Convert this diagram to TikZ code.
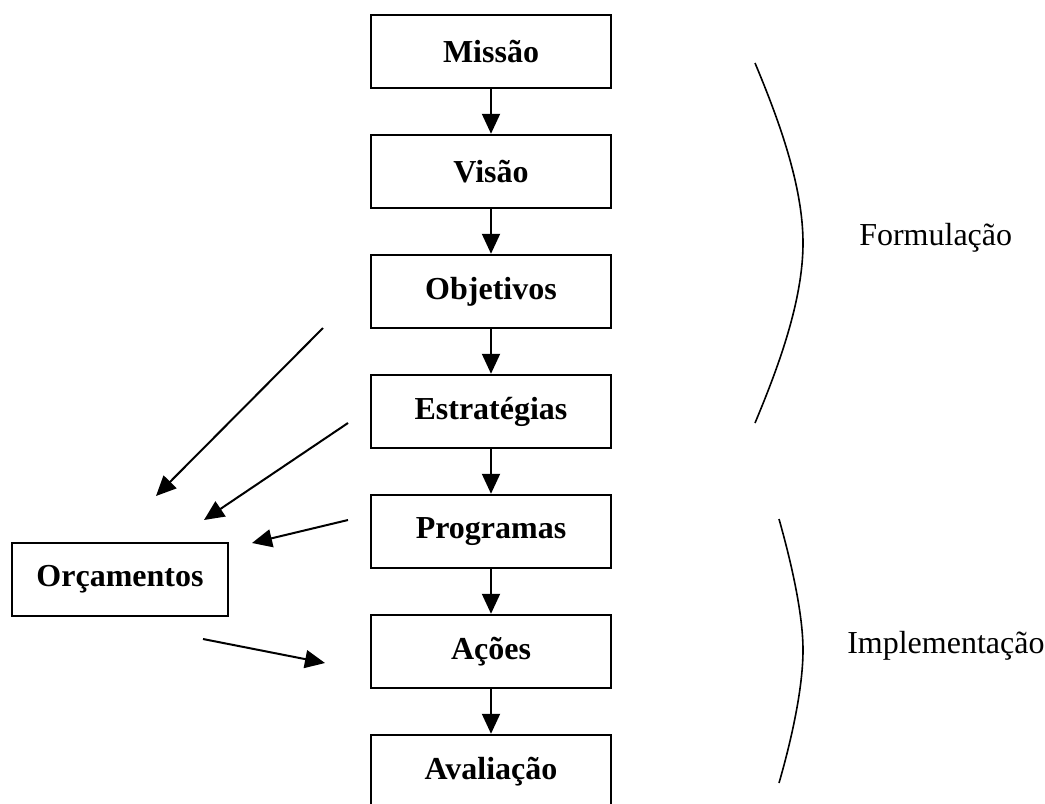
\documentclass[tikz,border=0pt]{standalone}
\usepackage{fontspec}
\setmainfont{Liberation Serif}
\usetikzlibrary{arrows.meta, calc, positioning}
\tikzstyle{box}= [draw=black, line width=1.6pt, font=\fontsize{24}{28}\selectfont\bfseries]
\tikzstyle{Box}= [minimum width=180pt, minimum height=55pt, box]
\tikzstyle{Budget}= [minimum width=162pt, minimum height=55pt, box]
\tikzstyle{phase}= [font=\fontsize{24}{28}\selectfont, anchor=west, inner sep=0pt]
\tikzstyle{flow}= [->, line width=1.5pt]
\tikzstyle{brace}= [line width=1.2pt]

\begin{document}
\begin{tikzpicture}[x=0.75pt,y=-0.75pt,node distance=90pt,>={Triangle[length=15pt,width=13.5pt]}]
    \useasboundingbox (0,0) rectangle (1045,803);

    % main chain
    \node [Box] (Missao) at (491,51.5) {Missão};
    \node [Box, below of=Missao] (Visao) {Visão};
    \node [Box, below of=Visao] (Objetivos) {Objetivos};
    \node [Box, below of=Objetivos] (Estrategias) {Estratégias};
    \node [Box, below of=Estrategias] (Programas) {Programas};
    \node [Box, below of=Programas] (Acoes) {Ações};
    \node [Box, below of=Acoes] (Avaliacao) {Avaliação};

    \draw[flow] (Missao) -- (Visao);
    \draw[flow] (Visao) -- (Objetivos);
    \draw[flow] (Objetivos) -- (Estrategias);
    \draw[flow] (Estrategias) -- (Programas);
    \draw[flow] (Programas) -- (Acoes);
    \draw[flow] (Acoes) -- (Avaliacao);

    % budget side
    \node [Budget] (Orcamentos) at (120,579.5) {Orçamentos};

    \coordinate (objFrom) at (323,328);
    \coordinate (objTo) at (156,496);
    \coordinate (estFrom) at (348,423);
    \coordinate (estTo) at (204,520);
    \coordinate (progFrom) at (348,520);
    \coordinate (progTo) at (252,543);
    \coordinate (acoFrom) at (203,639);
    \coordinate (acoTo) at (325,663);

    \draw[flow] (objFrom) -- (objTo);
    \draw[flow] (estFrom) -- (estTo);
    \draw[flow] (progFrom) -- (progTo);
    \draw[flow] (acoFrom) -- (acoTo);

    % phases
    \coordinate (formTop) at (755,63);
    \coordinate (formMid) at (803,243);
    \coordinate (formBot) at (755,423);
    \draw[brace] (formTop) .. controls (778,118) and (803,185) .. (formMid)
        .. controls (803,301) and (778,368) .. (formBot);
    \node [phase] (Formulacao) at (859,238) {Formulação};

    \coordinate (implTop) at (779,519);
    \coordinate (implMid) at (803,650);
    \coordinate (implBot) at (779,783);
    \draw[brace] (implTop) .. controls (792,565) and (803,615) .. (implMid)
        .. controls (803,687) and (792,738) .. (implBot);
    \node [phase] (Implementacao) at (847,646) {Implementação};

\end{tikzpicture}
\end{document}
